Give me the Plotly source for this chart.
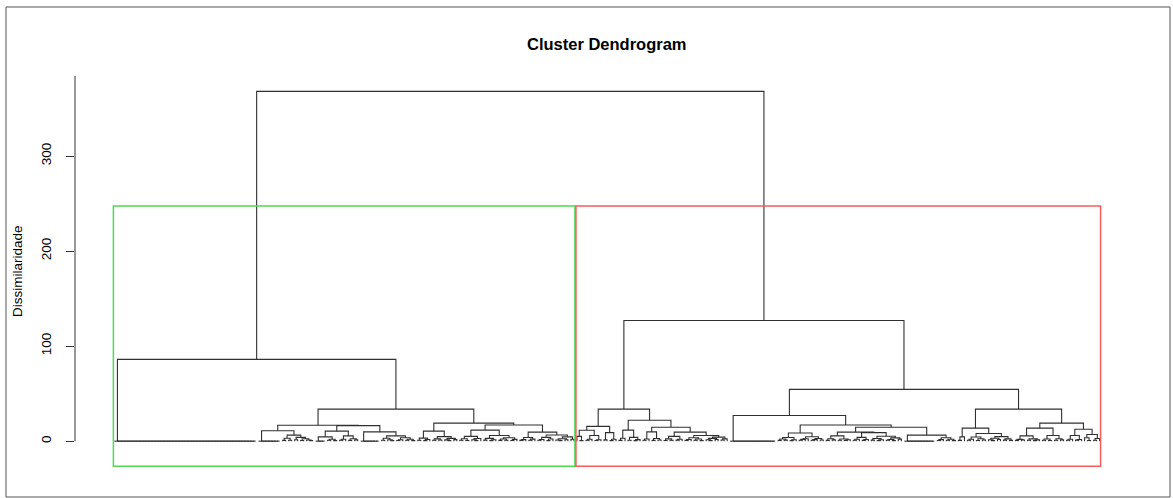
import re
import plotly.graph_objects as go

# ---------------- data ----------------
title_text = "Cluster Dendrogram"
y_title = "Dissimilaridade"
y_ticks = [0, 100, 200, 300]
cluster_colors = ["#52d852", "#f75c5c"]   # rect.hclust borders (k = 2)
k_clusters = 2

# Tree notation: "o" = one observation, "zN" = N identical observations merged at height 0,
# "(A B)h" = merge of A and B at height h (dissimilarity)
A1 = "(z8 (((o o)0.8 (o o)1)3 ((o o)1.5 ((o o)0.7 (o (o o)0.5)1.2)2.5)4)6.3)10.9"
A2a = "((z4 ((o o)1 (o o)0.6)2)4.5 (((o o)1 o)2 ((o o)0.8 (o o)1.3)2.6)5.5)10.5"
A2b = "(z7 (((o o)1 (o (o o)0.5)1.4)3 (((o o)0.7 o)1.5 ((o o)1 (o o)0.6)2)3.5)5.5)9.8"
B1 = "(((o o)1 ((o o)0.6 o)1.8)3.2 (((o o)0.9 (o o)1.2)2.4 ((o (o o)0.5)1.3 (o o)1.6)2.9)4.8)10.5"
B2a = ("((((o o)1 (o o)0.7)2.5 ((o (o o)0.5)1.5 o)2.8)5 "
       "(((o o)1.1 ((o o)0.6 o)1.4)2.9 (((o o)0.8 (o o)1)2.2 ((o o)0.7 o)1.9)3.6)6)11.6")
B2b = ("((((o o)0.8 o)1.6 ((o o)1 o)2.1)3.8 "
       "((((o o)0.9 o)1.8 ((o o)0.6 o)2.3)4 (((o (o o)0.5)1.2 (o o)1.4)2.6 (o o)2)4.5)6.5)9.5")
green_tree = f"(z48 (({A1} ({A2a} {A2b})16.3)16.8 ({B1} ({B2a} {B2b})17)19)33.7)86"

C1 = "(((o (o o)0.6)5 (((o o)1 o)2 ((o o)0.7 o)1.5)6)11.5 ((o o)1.3 ((o o)0.6 o)2)9)15.5"
C2a = "(((o o)0.8 o)3 ((o o)1 ((o o)0.5 o)1.6)4)11.6"
C2b = ("((((o o)1 o)2.2 ((o o)0.8 (o o)1.2)2.8)9.8 "
       "((((o o)0.7 (o o)1)2.4 ((o o)1.1 o)2)5 "
       "((((o o)0.8 o)1.8 ((o o)1 (o o)0.6)2.2)3.5 (((o (o o)0.5)1.4 (o o)1.7)2.9 ((o o)1.2 o)2.4)4.2)6)9.5)14.7")
D1b1 = ("((((o o)0.8 (o o)1.1)2.2 ((o o)0.6 o)1.5)3.8 "
        "((((o o)1 o)1.9 o)2.6 (((o o)0.9 o)1.6 (o o)1.2)2.8)4.6)8.5")
D1b2a = ("((((o o)0.8 (o o)1.3)2.6 ((o o)1 ((o o)0.7 o)1.5)2.2)5.5 "
         "((((o o)1 o)2 ((o o)0.8 o)1.7)4 (((o o)1.1 ((o o)0.6 o)1.5)2.8 (((o o)0.9 (o o)0.5)1.8 (o o)2.1)3.4)5.2)9)9.5")
D1b2b = "(z11 (((o o)0.7 o)1.6 ((o o)1 (o o)0.6)2)3.5)6.3"
D2a = ("(((o o)0.8 o)4.5 ((((o o)1 o)2 ((o o)0.7 (o o)1.2)2.5)4.3 "
       "(((o (o o)0.6)1.5 (o o)1.8)3 ((o o)1.1 (o o)0.8)2.4)4.8)8)13.7")
D2b = ("(((((o o)0.8 (o o)1.2)1.9 ((o o)1 ((o o)0.6 o)1.3)2.4)5.5 (((o o)1 (o o)0.7)2.2 ((o o)0.9 (o o)1.3)2.6)6)13.7 "
       "((((o o)0.9 o)2 ((o o)1.1 o)1.7)6 ((o (o o)0.7)3.5 ((o o)1 o)2.8)7)12.5)19")
red_tree = (f"(({C1} ({C2a} {C2b})22)33.7 "
            f"((z16 ({D1b1} ({D1b2a} {D1b2b})14.7)17)27 ({D2a} {D2b})33.7)54.5)127")
full_tree = f"({green_tree} {red_tree})368"


# ---------------- parse & layout (R plot.hclust style) ----------------
def parse(s):
    toks = re.findall(r"\(|\)[0-9.]+|z\d+|o", s)

    def build(i):
        t = toks[i]
        if t == "o":
            return ("leaf",), i + 1
        if t.startswith("z"):
            return ("zero", int(t[1:])), i + 1
        left, i = build(i + 1)
        right, i = build(i)
        return ("node", float(toks[i][1:]), left, right), i + 1

    tree, _ = build(0)
    return tree


tree = parse(full_tree)
xs, ys = [], []
counter = [0]
heights = []


def count_leaves(n):
    if n[0] == "leaf":
        return 1
    if n[0] == "zero":
        return n[1]
    return count_leaves(n[2]) + count_leaves(n[3])


def layout(n):
    if n[0] == "leaf":
        counter[0] += 1
        return counter[0], 0.0
    if n[0] == "zero":
        leaves = [counter[0] + j + 1 for j in range(n[1])]
        counter[0] += n[1]
        p = leaves[-1]
        for lf in reversed(leaves[:-1]):
            xs.extend([lf, p, None])
            ys.extend([0, 0, None])
            p = (lf + p) / 2
        return p, 0.0
    h = n[1]
    heights.append(h)
    xl, hl = layout(n[2])
    xr, hr = layout(n[3])
    xs.extend([xl, xl, xr, xr, None])
    ys.extend([hl, h, h, hr, None])
    return (xl + xr) / 2, h


layout(tree)
N = counter[0]

ext = 0.04 * (N - 1)
x_range = [1 - ext, N + ext]
y_range = [-27.2, 384.2]
rect_bottom = -26.3

fig = go.Figure()
fig.add_trace(go.Scatter(x=xs, y=ys, mode="lines",
                         line=dict(color="#303030", width=1.1),
                         hoverinfo="skip", showlegend=False))

# rect.hclust style rectangles
hs = sorted(heights, reverse=True)
rect_top = (hs[k_clusters - 2] + hs[k_clusters - 1]) / 2
sizes = [count_leaves(tree[2]), count_leaves(tree[3])]
m = [0]
for s_ in sizes:
    m.append(m[-1] + s_)
for i, col in enumerate(cluster_colors):
    fig.add_shape(type="rect", xref="x", yref="y",
                  x0=m[i] + 0.66, x1=m[i + 1] + 0.33, y0=rect_bottom, y1=rect_top,
                  line=dict(color=col, width=1.5), fillcolor="rgba(0,0,0,0)")

# y axis line (from 0 up to the top of the plot region)
fig.add_shape(type="line", xref="paper", yref="y", x0=0, x1=0, y0=0, y1=y_range[1],
              line=dict(color="#333333", width=1))

W, H = 1173, 498
ml, mr, mt, mb = 75, 34, 76, 31
pw, ph = W - ml - mr, H - mt - mb

# outer frame
fig.add_shape(type="rect", xref="paper", yref="paper",
              x0=(6 - ml) / pw, x1=(1170 - ml) / pw,
              y0=(H - mb - 497) / ph, y1=(H - mb - 7) / ph,
              line=dict(color="#555555", width=1))

font_family = "Liberation Sans, Arial, Helvetica, sans-serif"
fig.add_annotation(text=f"<b>{title_text}</b>", xref="paper", yref="paper",
                   x=0.5, y=(H - mb - 44) / ph, xanchor="center", yanchor="middle",
                   showarrow=False, font=dict(family=font_family, size=16.5, color="black"))
fig.add_annotation(text=y_title, xref="paper", yref="paper",
                   x=(17 - ml) / pw, y=(H - mb - 271) / ph, xanchor="center", yanchor="middle",
                   textangle=-90, showarrow=False,
                   font=dict(family=font_family, size=13.5, color="black"))

fig.update_layout(
    width=W, height=H,
    margin=dict(l=ml, r=mr, t=mt, b=mb),
    paper_bgcolor="white", plot_bgcolor="white",
    xaxis=dict(range=x_range, visible=False, showgrid=False, zeroline=False),
    yaxis=dict(range=y_range, showgrid=False, zeroline=False, showline=False,
               tickvals=y_ticks, ticktext=[str(t) for t in y_ticks],
               ticks="outside", ticklen=8, tickcolor="#333333", tickwidth=1,
               tickangle=-90, ticklabelstandoff=10,
               tickfont=dict(family=font_family, size=13.5, color="black")),
)

fig.write_html("out.html", config={"displayModeBar": False},
               post_script="document.body.style.margin='0';document.body.style.overflow='hidden';")
